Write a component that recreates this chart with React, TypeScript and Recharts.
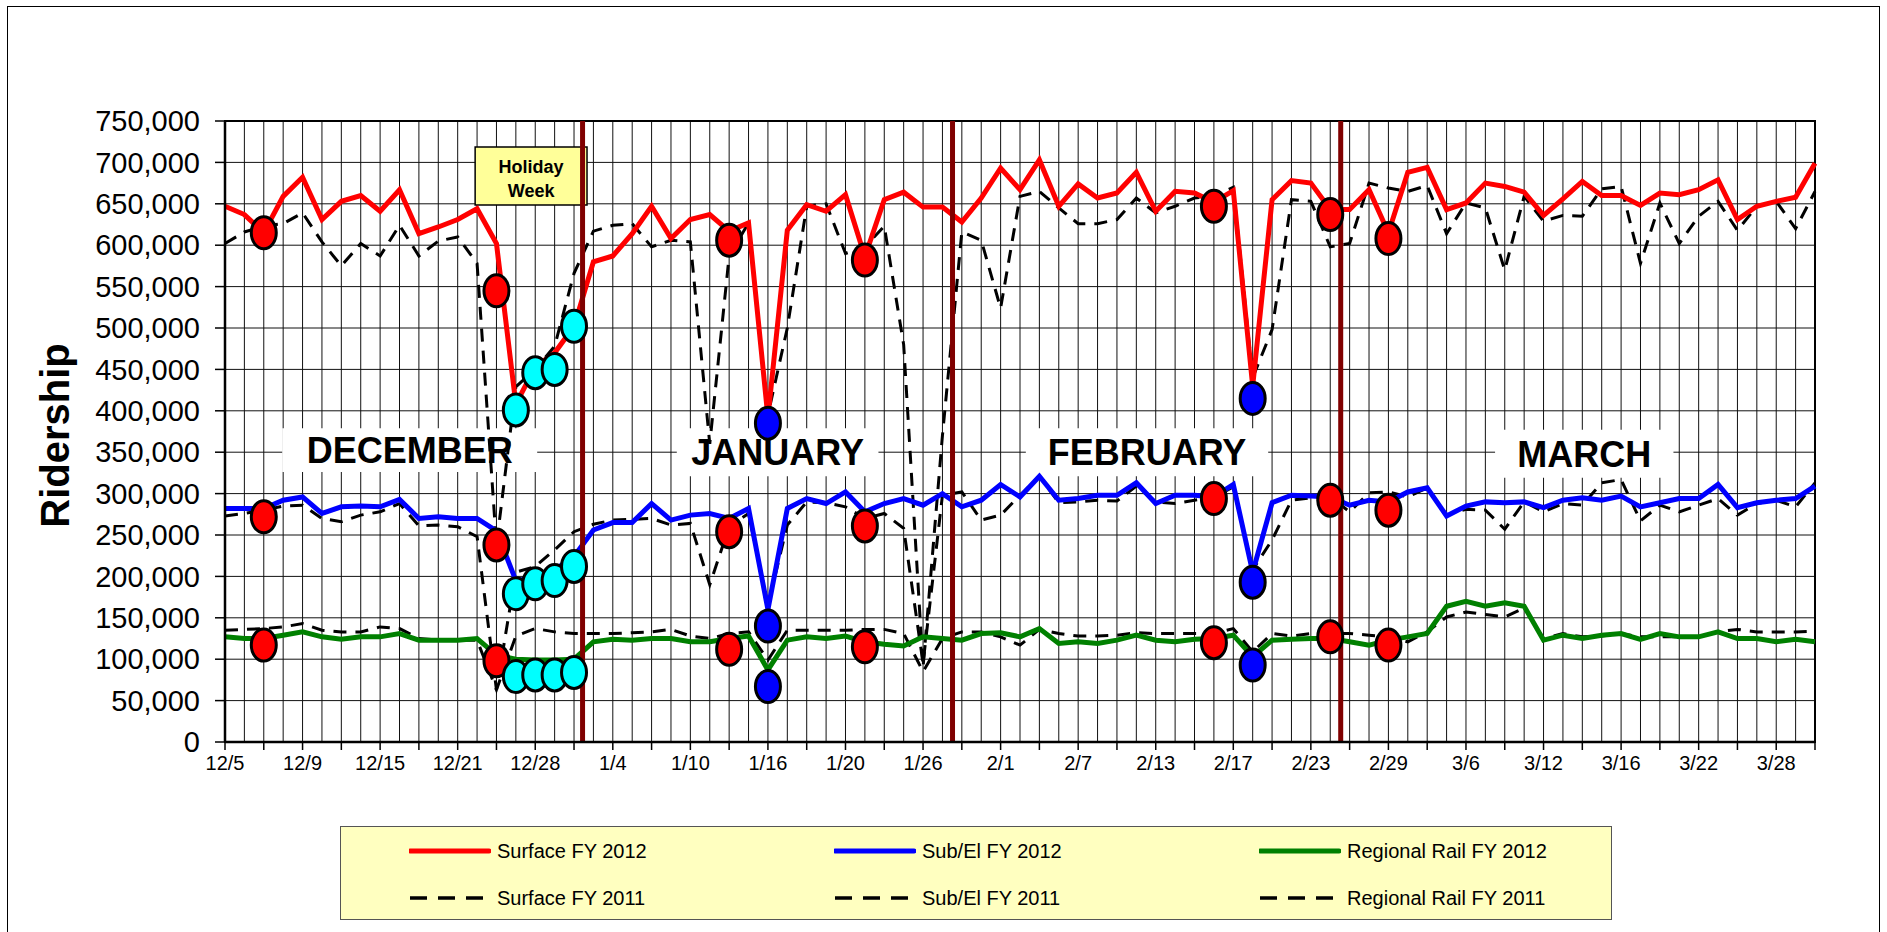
import React from 'react';
import {
  ComposedChart,
  Line,
  Scatter,
  XAxis,
  YAxis,
  CartesianGrid,
  ReferenceArea,
  ReferenceLine
} from 'recharts';

const FONT = '"Liberation Sans", Arial, sans-serif';

// weekday categories, 12/5/2011 - 3/30/2012
const dates = [
  '12/5', '12/6', '12/7', '12/8', '12/9', '12/12', '12/13', '12/14', '12/15', '12/16',
  '12/19', '12/20', '12/21', '12/22', '12/23', '12/27', '12/28', '12/29', '12/30', '1/3',
  '1/4', '1/5', '1/6', '1/9', '1/10', '1/11', '1/12', '1/13', '1/16', '1/17',
  '1/18', '1/19', '1/20', '1/23', '1/24', '1/25', '1/26', '1/27', '1/30', '1/31',
  '2/1', '2/2', '2/3', '2/6', '2/7', '2/8', '2/9', '2/10', '2/13', '2/14',
  '2/15', '2/16', '2/17', '2/20', '2/21', '2/22', '2/23', '2/24', '2/27', '2/28',
  '2/29', '3/1', '3/2', '3/5', '3/6', '3/7', '3/8', '3/9', '3/12', '3/13',
  '3/14', '3/15', '3/16', '3/19', '3/20', '3/21', '3/22', '3/23', '3/26', '3/27',
  '3/28', '3/29', '3/30'
];

// ridership, thousands
const surface2012 = [
  647, 637, 615, 659, 682, 631, 653, 660, 641, 667,
  614, 622, 631, 644, 602, 408, 453, 470, 502, 580,
  587, 614, 647, 608, 631, 637, 617, 627, 392, 618,
  649, 641, 661, 586, 655, 664, 646, 646, 628, 657,
  693, 667, 703, 647, 674, 657, 663, 688, 641, 665,
  663, 652, 666, 430, 655, 678, 675, 643, 643, 667,
  615, 688, 694, 643, 651, 675, 671, 664, 636, 656,
  677, 660, 660, 648, 663, 661, 667, 679, 631, 647,
  653, 658, 699
];
const surface2011 = [
  602, 616, 623, 626, 639, 604, 575, 602, 587, 624,
  587, 605, 610, 578, 238, 429, 450, 478, 566, 617,
  624, 626, 598, 606, 604, 360, 587, 627, 395, 500,
  647, 650, 590, 598, 623, 480, 90, 370, 616, 606,
  524, 659, 665, 645, 626, 626, 631, 657, 639, 647,
  657, 659, 670, 440, 498, 655, 653, 598, 602, 675,
  669, 665, 672, 614, 651, 645, 570, 659, 629, 636,
  635, 668, 671, 578, 651, 602, 635, 653, 618, 647,
  653, 620, 665
];
const subEl2012 = [
  282, 282, 282, 292, 296, 276, 284, 285, 284, 293,
  270, 272, 270, 270, 255, 195, 198, 208, 224, 256,
  265, 265, 288, 268, 274, 276, 270, 282, 160, 282,
  294, 288, 302, 278, 288, 294, 286, 300, 284, 292,
  311, 296, 321, 292, 294, 298, 298, 313, 288, 298,
  298, 296, 311, 205, 289, 298, 297, 296, 286, 292,
  290, 302, 307, 273, 285, 290, 289, 290, 283, 292,
  295, 292, 297, 284, 289, 294, 294, 311, 283, 289,
  292, 294, 309
];
const subEl2011 = [
  273, 276, 280, 285, 286, 270, 266, 274, 278, 288,
  261, 262, 260, 248, 63, 205, 212, 232, 254, 263,
  268, 269, 270, 262, 264, 190, 260, 276, 165, 262,
  290, 289, 284, 270, 276, 258, 95, 298, 302, 268,
  274, 298, 321, 289, 290, 292, 291, 309, 290, 288,
  292, 296, 308, 208, 244, 292, 295, 296, 278, 301,
  302, 296, 307, 274, 281, 280, 257, 290, 278, 288,
  286, 313, 317, 267, 286, 278, 286, 294, 274, 288,
  292, 284, 313
];
const rail2012 = [
  127, 125, 125, 129, 133, 127, 124, 127, 127, 131,
  123, 123, 123, 125, 105, 100, 99, 99, 100, 121,
  124, 123, 125, 125, 121, 121, 125, 128, 87, 123,
  127, 125, 128, 121, 118, 116, 127, 125, 123, 131,
  132, 127, 137, 119, 121, 119, 123, 129, 123, 121,
  124, 125, 129, 103, 123, 124, 125, 125, 121, 117,
  123, 127, 131, 164, 170, 164, 168, 164, 123, 129,
  125, 129, 131, 124, 131, 127, 127, 133, 125, 125,
  121, 124, 121
];
const rail2011 = [
  135, 136, 137, 139, 143, 135, 133, 133, 139, 137,
  125, 123, 123, 123, 63, 128, 137, 133, 131, 131,
  131, 132, 133, 136, 128, 125, 131, 133, 99, 135,
  135, 135, 135, 136, 136, 131, 85, 125, 133, 133,
  127, 117, 136, 131, 128, 128, 129, 132, 131, 131,
  131, 131, 137, 109, 131, 128, 131, 131, 131, 129,
  127, 121, 133, 151, 157, 154, 151, 162, 125, 131,
  127, 128, 131, 127, 127, 127, 127, 133, 136, 133,
  133, 133, 134
];

// highlighted days (red = holiday/weather, cyan = holiday week, blue = MLK / Presidents Day)
const markerIdx = [2, 14, 15, 16, 17, 18, 26, 28, 33, 51, 53, 57, 60];
const markerColor = ['#FF0000', '#FF0000', '#00FFFF', '#00FFFF', '#00FFFF', '#00FFFF', '#FF0000', '#0000FF', '#FF0000', '#FF0000', '#0000FF', '#FF0000', '#FF0000'];
const markerSurface = [615, 545, 401, 446, 450, 502, 606, 385, 582, 647, 415, 637, 608];
const markerSubEl = [272, 238, 179, 191, 195, 212, 254, 140, 261, 294, 193, 292, 280];
const markerRail = [117, 98, 79, 81, 81, 84, 112, 67, 115, 120, 93, 127, 117];

// month separators (category position) and month labels
const monthBreaks = [18.44, 37.52, 57.54];
const monthNames = ['DECEMBER', 'JANUARY', 'FEBRUARY', 'MARCH'];
const monthBoxX = [[2.95, 16.1], [23.3, 33.7], [41.3, 53.8], [65.5, 74.7]];
const monthBoxY = [[326, 379], [321, 379], [321, 379], [319, 377]];

const yTicks = [0, 50, 100, 150, 200, 250, 300, 350, 400, 450, 500, 550, 600, 650, 700, 750].map(v => v * 1000);

const legendItems = [
  { name: 'Surface FY 2012', color: '#FF0000', dashed: false },
  { name: 'Sub/El FY 2012', color: '#0000FF', dashed: false },
  { name: 'Regional Rail FY 2012', color: '#008000', dashed: false },
  { name: 'Surface FY 2011', color: '#000', dashed: true },
  { name: 'Sub/El FY 2011', color: '#000', dashed: true },
  { name: 'Regional Rail FY 2011', color: '#000', dashed: true }
];

const chartData = dates.map((d, i) => ({
  idx: i,
  date: d,
  s12: surface2012[i] * 1000,
  s11: surface2011[i] * 1000,
  b12: subEl2012[i] * 1000,
  b11: subEl2011[i] * 1000,
  r12: rail2012[i] * 1000,
  r11: rail2011[i] * 1000
}));

const markerData = markerIdx.map((idx, j) => ({
  idx,
  color: markerColor[j],
  surface: markerSurface[j] * 1000,
  subEl: markerSubEl[j] * 1000,
  rail: markerRail[j] * 1000
}));

const allIdx = dates.map((_, i) => i);

const Marker = (props: any) => {
  const { cx, cy, payload } = props;
  if (cx == null || cy == null) return null;
  return <ellipse cx={cx} cy={cy} rx={12.5} ry={16} fill={payload.color} stroke="#000" strokeWidth={3} />;
};

const XTick = (props: any) => {
  const { x, y, payload } = props;
  const i = payload.value;
  return (
    <g>
      {i % 2 === 0 && <line x1={x} y1={y - 8} x2={x} y2={y} stroke="#000" strokeWidth={1.5} />}
      {i % 4 === 0 && (
        <text x={x} y={y + 20} textAnchor="middle" fontSize={20} fontFamily={FONT} fill="#000">
          {dates[i]}
        </text>
      )}
    </g>
  );
};

const HolidayLabel = (props: any) => {
  const { viewBox } = props;
  const cx = viewBox.x + viewBox.width / 2;
  const cy = viewBox.y + viewBox.height / 2;
  return (
    <text textAnchor="middle" fontSize={18} fontWeight="bold" fontFamily={FONT} fill="#000">
      <tspan x={cx} y={cy - 3}>Holiday</tspan>
      <tspan x={cx} y={cy + 21}>Week</tspan>
    </text>
  );
};

const YTitle = (props: any) => {
  const { viewBox } = props;
  const cy = viewBox.y + viewBox.height / 2 + 4;
  return (
    <text x={55} y={cy} transform={`rotate(-90, 55, ${cy})`} textAnchor="middle" dominantBaseline="central"
      fontSize={40} fontWeight="bold" fontFamily={FONT} fill="#000">
      Ridership
    </text>
  );
};

const LegendBox = () => (
  <div style={{
    position: 'absolute', left: 340, top: 826, width: 1272, height: 94,
    background: '#FFFFC0', border: '1.5px solid #555', boxSizing: 'border-box',
    fontFamily: FONT, fontSize: 20
  }}>
    {legendItems.map((it, k) => {
      const col = k % 3;
      const row = Math.floor(k / 3);
      return (
        <div key={it.name} style={{ position: 'absolute', left: 68 + col * 425, top: 12 + row * 47, height: 24, display: 'flex', alignItems: 'center', whiteSpace: 'nowrap' }}>
          <svg width={82} height={10} style={{ marginRight: 6 }}>
            <line x1={1} y1={5} x2={80} y2={5} stroke={it.color} strokeWidth={it.dashed ? 3.5 : 5}
              strokeDasharray={it.dashed ? '17 11' : undefined} strokeLinecap={it.dashed ? 'butt' : 'round'} />
          </svg>
          <span>{it.name}</span>
        </div>
      );
    })}
  </div>
);

export default function App() {
  return (
    <div style={{ position: 'absolute', left: 0, top: 0, width: 1887, height: 932, overflow: 'hidden', background: '#fff' }}>
      <div style={{ position: 'absolute', left: 7, top: 6, width: 1873, height: 960, border: '1.5px solid #000', boxSizing: 'border-box' }} />
      <ComposedChart width={1887} height={932} data={chartData}
        margin={{ top: 121, right: 72, bottom: 150, left: 0 }}
        style={{ position: 'absolute', left: 0, top: 0 }}>
        <CartesianGrid stroke="#111" strokeWidth={1} />
        <XAxis dataKey="idx" type="number" domain={[0, 82]} ticks={allIdx} interval={0}
          tick={<XTick />} tickLine={false} tickSize={8} tickMargin={0} height={40}
          axisLine={{ stroke: '#000', strokeWidth: 2.5 }} allowDecimals={false} />
        <YAxis type="number" domain={[0, 750000]} ticks={yTicks} interval={0} width={225}
          tickFormatter={(v: number) => v.toLocaleString('en-US')}
          tick={{ fontSize: 29, fill: '#000', fontFamily: FONT }}
          tickSize={10} tickMargin={15}
          tickLine={{ stroke: '#000', strokeWidth: 1.5 }}
          axisLine={{ stroke: '#000', strokeWidth: 2.5 }}
          label={<YTitle />} />

        <ReferenceArea x1={0} x2={82} y1={0} y2={750000} fill="none" stroke="#000" strokeWidth={2} />

        <Line dataKey="s11" type="linear" stroke="#000" strokeWidth={3} strokeDasharray="13 9" dot={false} isAnimationActive={false} />
        <Line dataKey="b11" type="linear" stroke="#000" strokeWidth={3} strokeDasharray="13 9" dot={false} isAnimationActive={false} />
        <Line dataKey="r11" type="linear" stroke="#000" strokeWidth={3} strokeDasharray="13 9" dot={false} isAnimationActive={false} />
        <Line dataKey="s12" type="linear" stroke="#FF0000" strokeWidth={5} dot={false} isAnimationActive={false} />
        <Line dataKey="b12" type="linear" stroke="#0000FF" strokeWidth={5} dot={false} isAnimationActive={false} />
        <Line dataKey="r12" type="linear" stroke="#008000" strokeWidth={5} dot={false} isAnimationActive={false} />

        <Scatter data={markerData} dataKey="surface" shape={<Marker />} isAnimationActive={false} />
        <Scatter data={markerData} dataKey="subEl" shape={<Marker />} isAnimationActive={false} />
        <Scatter data={markerData} dataKey="rail" shape={<Marker />} isAnimationActive={false} />

        {monthNames.map((m, k) => (
          <ReferenceArea key={m} x1={monthBoxX[k][0]} x2={monthBoxX[k][1]}
            y1={monthBoxY[k][0] * 1000} y2={monthBoxY[k][1] * 1000}
            fill="#fff" fillOpacity={1} stroke="none"
            label={{ value: m, position: 'center', fontSize: 36, fontWeight: 'bold', fill: '#000', fontFamily: FONT }} />
        ))}

        <ReferenceArea x1={12.9} x2={18.67} y1={648500} y2={718600} fill="#FFFF99" fillOpacity={1}
          stroke="#000" strokeWidth={1.5} label={<HolidayLabel />} />

        {monthBreaks.map(b => (
          <ReferenceLine key={b} x={b} stroke="#800000" strokeWidth={5} />
        ))}
      </ComposedChart>
      <LegendBox />
    </div>
  );
}
